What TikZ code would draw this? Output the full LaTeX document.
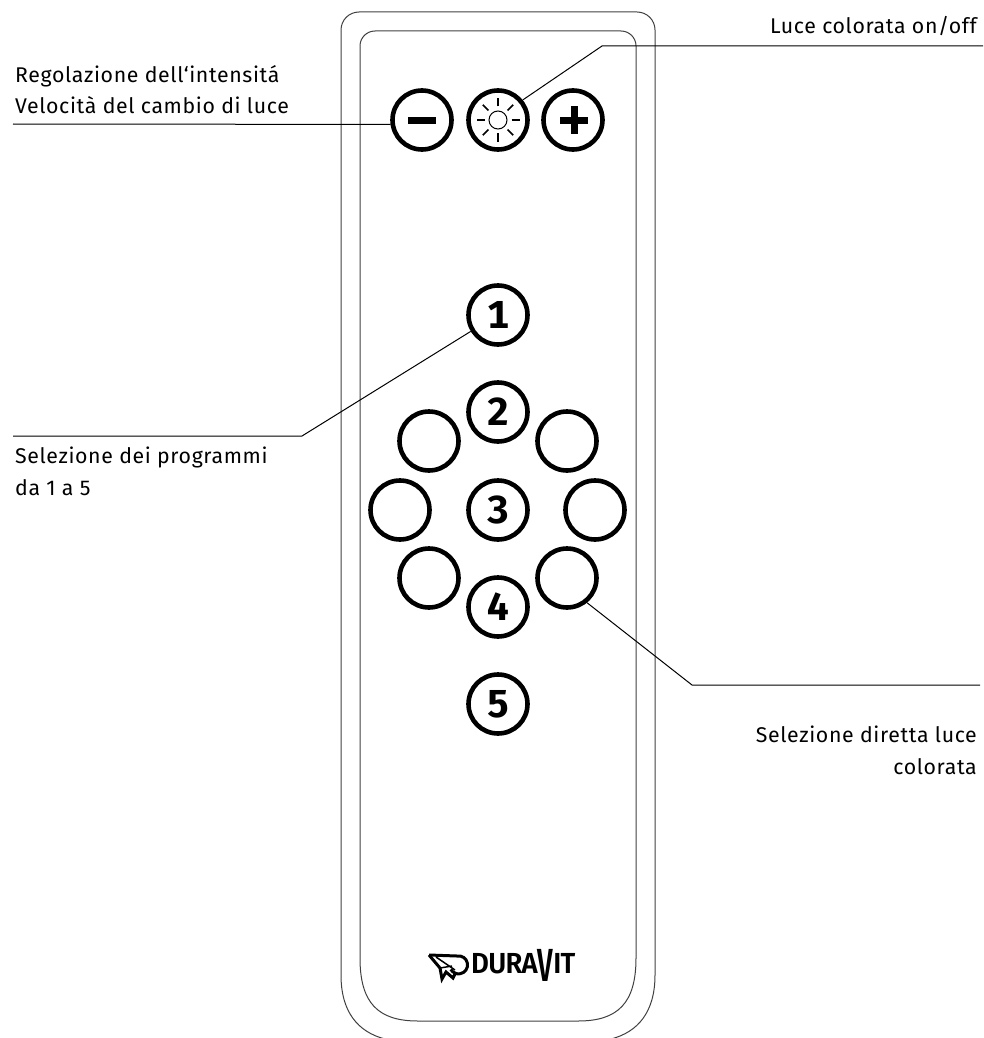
\documentclass[tikz,border=0pt]{standalone}
\usepackage{fontspec}
\setmainfont[LetterSpace=3]{Fira Sans}
\newfontfamily\keyfont[Numbers=Monospaced]{Fira Sans Bold}
\newfontfamily\logofont[LetterSpace=-3]{Fira Sans SemiBold}
\tikzset{
    keybtn/.style={draw,circle,line width=4.6pt,minimum size=59pt,inner sep=0pt,font=\keyfont\fontsize{39}{39}\selectfont},
    leader/.style={line width=1pt},
    shell/.style={line width=1pt,black!75},
    caption/.style={inner sep=0pt,font=\fontsize{21.3}{31.5}\selectfont},
    sunray/.style={line width=1.7pt},
    planeline/.style={line width=3pt,line join=miter}
}
\begin{document}
\begin{tikzpicture}[x=1pt,y=-1pt]
    \useasboundingbox (0,0) rectangle (983,1038);
    %% Body
    \begin{scope}
        \clip (0,0) rectangle (983,1038);
        \draw[shell] (341,30) arc (180:270:18) -- (637,12) arc (270:360:18) -- (655,975) .. controls (655,1012) and (638,1032) .. (611,1039) -- (385,1039) .. controls (358,1032) and (341,1012) .. (341,975) -- cycle;
    \end{scope}
    \draw[shell] (360,46) arc (180:270:15) -- (621,31) arc (270:360:15) -- (636,958) .. controls (636,1003) and (618,1021) .. (578,1021) -- (418,1021) .. controls (378,1021) and (360,1003) .. (360,958) -- cycle;
    %% Top row
    \node[keybtn] (minus) at (422,120) {};
    \node[keybtn] (sun) at (498,120) {};
    \node[keybtn] (plus) at (573,120) {};
    \fill (408,117) rectangle (436,124);
    \fill (560,117) rectangle (588,124);
    \fill (570.5,106.5) rectangle (577.5,134);
    \draw[line width=1pt] (sun.center) circle (9);
    \foreach \a in {0,45,...,315} {
        \draw[sunray] (sun.center) ++(\a:13.5) -- ++(\a:8);
    }
    %% Program keys
    \node[keybtn] (prog1) at (498,315) {1};
    \node[keybtn] (prog2) at (498,412) {2};
    \node[keybtn] (prog3) at (498,510) {3};
    \node[keybtn] (prog4) at (498,607) {4};
    \node[keybtn] (prog5) at (498,704) {5};
    %% Colour keys
    \node[keybtn] (colnw) at (429,441) {};
    \node[keybtn] (colne) at (567,441) {};
    \node[keybtn] (colw) at (400,510) {};
    \node[keybtn] (cole) at (595,510) {};
    \node[keybtn] (colsw) at (429,578) {};
    \node[keybtn] (colse) at (567,578) {};
    %% Labels
    \coordinate (minusend) at (13,124);
    \coordinate (sunbend) at (602,46);
    \coordinate (sunend) at (983,46);
    \coordinate (progbend) at (302,436);
    \coordinate (progend) at (13,436);
    \coordinate (colbend) at (692,685);
    \coordinate (colend) at (980,685);
    \draw[leader] (minusend) -- (minus.188);
    \draw[leader] (sun.39) -- (sunbend) -- (sunend);
    \draw[leader] (prog1.211) -- (progbend) -- (progend);
    \draw[leader] (colse.-51) -- (colbend) -- (colend);
    \node[caption,anchor=north west,align=left] (minuscap) at (15,65) {Regolazione dell‘intensitá\\Velocità del cambio di luce};
    \node[caption,anchor=north east] (suncap) at (977,16) {Luce colorata on/off};
    \node[caption,anchor=north west,align=left] (progcap) at (15,447) {Selezione dei programmi\\da 1 a 5};
    \node[caption,anchor=north east,align=right] (colcap) at (977,726) {Selezione diretta luce\\colorata};
    %% Logo
    \draw[planeline] (429,955) -- (457,956) arc (-100:150:9);
    \draw[planeline] (429,955) -- (440,968) -- (442,979) -- (446,972) -- (453,978) -- (456,972);
    \draw[line width=1.5pt] (436,957) -- (455,970);
    \draw[line width=1.5pt] (440,968) -- (452,966);
    \node[inner sep=0pt,anchor=base west,font=\logofont\fontsize{29}{29}\selectfont] (logo) at (471,973) {\scalebox{0.95}[1]{DURA\raisebox{-8pt}{\scalebox{1}[1.6]{V}}IT}};
\end{tikzpicture}
\end{document}
